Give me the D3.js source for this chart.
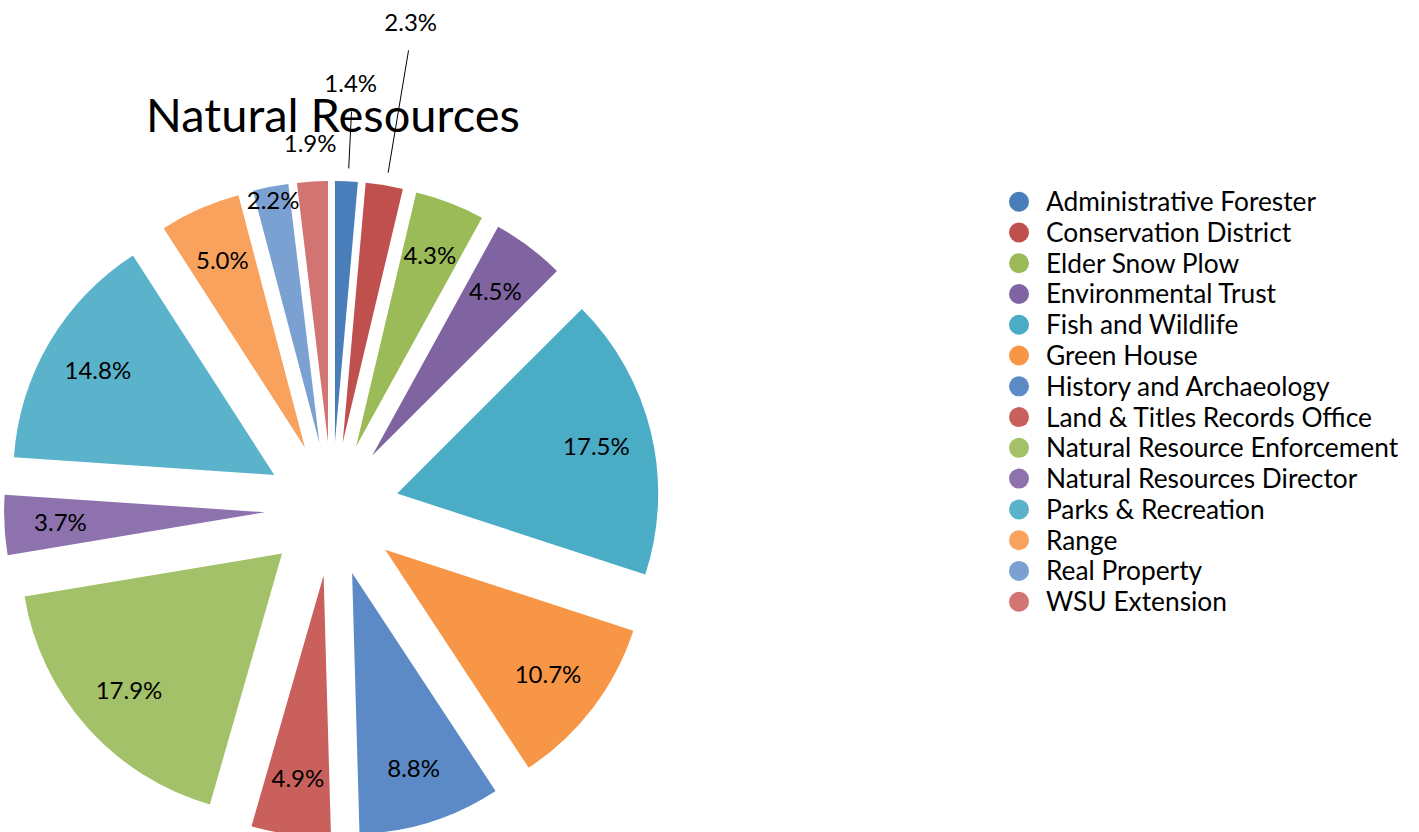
<!DOCTYPE html>
<html>
<head>
<meta charset="utf-8">
<script src="https://cdn.jsdelivr.net/npm/d3@7"></script>
<style>
  body { margin: 0; background: #fff; }
  svg text { font-family: Lato, "Open Sans", sans-serif; fill: #000; }
</style>
</head>
<body>
<svg id="chart" width="1419" height="832"></svg>
<script>
const width = 1419;
const height = 832;

// data
const categories = [
  "Administrative Forester",
  "Conservation District",
  "Elder Snow Plow",
  "Environmental Trust",
  "Fish and Wildlife",
  "Green House",
  "History and Archaeology",
  "Land & Titles Records Office",
  "Natural Resource Enforcement",
  "Natural Resources Director",
  "Parks & Recreation",
  "Range",
  "Real Property",
  "WSU Extension"
];
const values = [1.4, 2.3, 4.3, 4.5, 17.5, 10.7, 8.8, 4.9, 17.9, 3.7, 14.8, 5.0, 2.2, 1.9];
const colors = [
  "#4a7ebb", "#c0504d", "#9bbb59", "#8064a2", "#4bacc6", "#f79646", "#5b8ac6",
  "#c9605c", "#a3c168", "#8d72ae", "#5ab3cb", "#f8a25e", "#7ba0d2", "#d27572"
];
const title = "Natural Resources";

const rows = categories.map((c, i) => ({ name: c, value: values[i], color: colors[i] }));

const svg = d3.select("#chart");

// pie layout
const cx = 332, cy = 509;
const radius = 261;
const explode = 67;
const labelR = explode + radius * 0.785;
// small slices at the top get their labels pushed outwards (best fit)
const pushedLabelR = {
  "Real Property": 314,
  "WSU Extension": 366,
  "Administrative Forester": 426,
  "Conservation District": 493
};

const pie = d3.pie().sort(null).value(d => d.value);
const arc = d3.arc().innerRadius(0).outerRadius(radius);
const arcs = pie(rows);

const midAngle = d => (d.startAngle + d.endAngle) / 2;
const polar = (a, r) => [cx + r * Math.sin(a), cy - r * Math.cos(a)];

const g = svg.append("g");

g.selectAll("path.slice")
  .data(arcs)
  .enter()
  .append("path")
  .attr("class", "slice")
  .attr("d", arc)
  .attr("fill", d => d.data.color)
  .attr("transform", d => {
    const [x, y] = polar(midAngle(d), explode);
    return `translate(${x},${y})`;
  });

// title
svg.append("text")
  .attr("x", 333)
  .attr("y", 132)
  .attr("text-anchor", "middle")
  .style("font-size", "47px")
  .text(title);

// leader lines for far labels
arcs.forEach(d => {
  const r = pushedLabelR[d.data.name] || labelR;
  if (r > 400) {
    const a = midAngle(d) + 0.005;
    const p1 = polar(a, explode + radius + 13);
    const p2 = polar(a, r - 28);
    svg.append("line")
      .attr("x1", p1[0]).attr("y1", p1[1])
      .attr("x2", p2[0]).attr("y2", p2[1])
      .attr("stroke", "#000")
      .attr("stroke-width", 1);
  }
});

// data labels
svg.selectAll("text.lbl")
  .data(arcs)
  .enter()
  .append("text")
  .attr("class", "lbl")
  .attr("x", d => polar(midAngle(d), pushedLabelR[d.data.name] || labelR)[0])
  .attr("y", d => polar(midAngle(d), pushedLabelR[d.data.name] || labelR)[1])
  .attr("dy", "0.36em")
  .attr("text-anchor", "middle")
  .style("font-size", "24px")
  .text(d => d.data.value.toFixed(1) + "%");

// legend
const legend = svg.append("g").attr("transform", "translate(1019,201.7)");
const legendY = d3.scalePoint().domain(categories).range([0, 400]);

const item = legend.selectAll("g.item")
  .data(rows)
  .enter()
  .append("g")
  .attr("class", "item")
  .attr("transform", d => `translate(0,${legendY(d.name)})`);

item.append("circle")
  .attr("r", 10)
  .attr("fill", d => d.color);

item.append("text")
  .attr("x", 27)
  .attr("dy", "0.36em")
  .style("font-size", "26.3px")
  .text(d => d.name);
</script>
</body>
</html>
